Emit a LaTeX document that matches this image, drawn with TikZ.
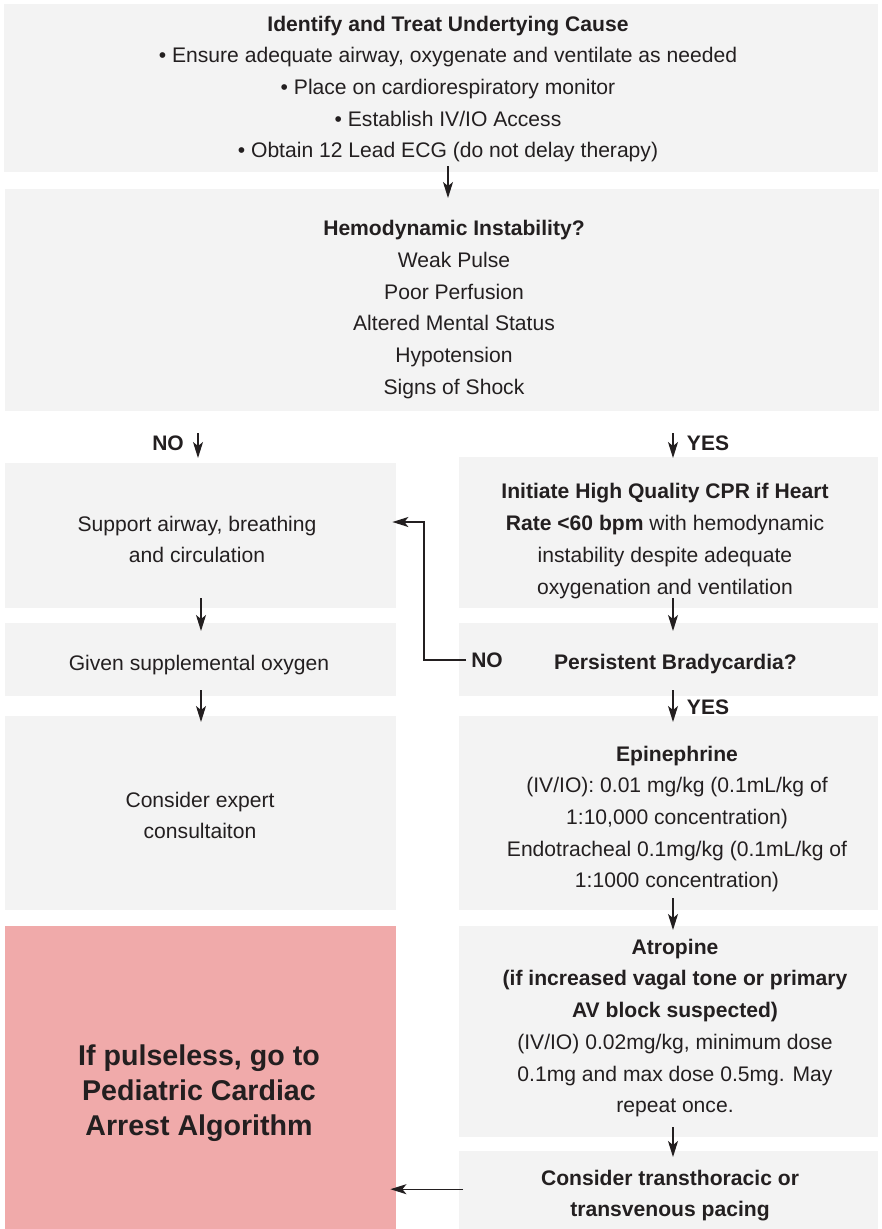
\documentclass[tikz,border=0pt]{standalone}
\usepackage{fontspec}
\setmainfont{Liberation Sans}
\usetikzlibrary{arrows.meta}
\definecolor{boxgray}{HTML}{F3F3F3}
\definecolor{alarm}{HTML}{F0AAAA}
\definecolor{ink}{HTML}{231F20}
\begin{document}
\begin{tikzpicture}[x=1pt,y=-1pt,
  box/.style={fill=boxgray, draw=none, inner sep=0pt, anchor=north west},
  redbox/.style={fill=alarm, draw=none, inner sep=0pt, anchor=north west},
  txt/.style={text=ink, align=center, inner sep=0pt, yshift=-2pt, font=\fontsize{21.1}{31.7}\selectfont},
  bigtxt/.style={text=ink, align=center, inner sep=0pt, font=\fontsize{28.6}{35}\selectfont\bfseries},
  lbl/.style={text=ink, inner sep=0pt, font=\fontsize{21}{24}\selectfont\bfseries},
  arr/.style={draw=ink, line width=1.3pt, -{Stealth[length=16pt,width=10pt,inset=4pt]}}
]
\fill[white] (0,0) rectangle (882,1229);
\useasboundingbox (0,0) rectangle (882,1229);

% column positions for the vertical arrows
\coordinate (cM) at (448,0);
\coordinate (cNo) at (198,0);
\coordinate (cL) at (201,0);
\coordinate (cR) at (673,0);
\coordinate (noTurn) at (424,522);

% boxes
\node[box, minimum width=874pt, minimum height=168pt] (top) at (4,4) {};
\node[box, minimum width=874pt, minimum height=222pt] (hemo) at (5,189) {};
\node[box, minimum width=391pt, minimum height=145pt] (left1) at (5,463) {};
\node[box, minimum width=419pt, minimum height=151pt] (right1) at (459,457) {};
\node[box, minimum width=391pt, minimum height=73pt] (left2) at (5,623) {};
\node[box, minimum width=419pt, minimum height=73pt] (right2) at (459,623) {};
\node[box, minimum width=391pt, minimum height=194pt] (left3) at (5,716) {};
\node[box, minimum width=419pt, minimum height=194pt] (right3) at (459,716) {};
\node[redbox, minimum width=391pt, minimum height=303pt] (red) at (5,926) {};
\node[box, minimum width=419pt, minimum height=211pt] (atro) at (459,926) {};
\node[box, minimum width=419pt, minimum height=78pt] (pacing) at (459,1151) {};

% texts
\node[txt] (toptxt) at (448,87) {\textbf{Identify and Treat Undertying Cause}\\
  • Ensure adequate airway, oxygenate and ventilate as needed\\
  • Place on cardiorespiratory monitor\\
  • Establish IV/IO Access\\
  • Obtain 12 Lead ECG (do not delay therapy)};
\node[txt] (hemotxt) at (454,307.5) {\textbf{Hemodynamic Instability?}\\
  Weak Pulse\\ Poor Perfusion\\ Altered Mental Status\\ Hypotension\\ Signs of Shock};
\node[txt] (left1txt) at (197,537.5) {Support airway, breathing\\ and circulation};
\node[txt] (right1txt) at (665,539) {\textbf{Initiate High Quality CPR if Heart}\\
  \textbf{Rate <60 bpm} with hemodynamic\\ instability despite adequate\\ oxygenation and ventilation};
\node[txt] (left2txt) at (199,663) {Given supplemental oxygen};
\node[txt] (right2txt) at (675.5,662) {\textbf{Persistent Bradycardia?}};
\node[txt] (left3txt) at (200,813.5) {Consider expert\\ consultaiton};
\node[txt] (right3txt) at (677,817) {\textbf{Epinephrine}\\
  (IV/IO): 0.01 mg/kg (0.1mL/kg of\\ 1:10,000 concentration)\\
  Endotracheal 0.1mg/kg (0.1mL/kg of\\ 1:1000 concentration)};
\node[bigtxt] (redtxt) at (199,1093) {If pulseless, go to\\ Pediatric Cardiac\\ Arrest Algorithm};
\node[txt] (atrotxt) at (675,1026) {\textbf{Atropine}\\
  \textbf{(if increased vagal tone or primary}\\ \textbf{AV block suspected)}\\
  (IV/IO) 0.02mg/kg, minimum dose\\ 0.1mg and max dose 0.5mg. May\\ repeat once.};
\node[txt] (pacingtxt) at (670,1193.5) {\textbf{Consider transthoracic or}\\ \textbf{transvenous pacing}};

% branch labels
\node[lbl] (noA) at (168,443) {NO};
\node[lbl] (yesA) at (708,443) {YES};
\node[lbl] (noB) at (487,660) {NO};
\node[lbl] (yesB) at (708,707) {YES};

% connectors
\draw[arr, shorten <=-6pt, shorten >=-9pt] (top.south -| cM) -- (hemo.north -| cM);
\draw[arr, shorten <=22pt, shorten >=5pt] (hemo.south -| cNo) -- (left1.north -| cNo);
\draw[arr, shorten <=22pt, shorten >=-1pt] (hemo.south -| cR) -- (right1.north -| cR);
\draw[arr, shorten <=-10pt, shorten >=-8pt] (left1.south -| cL) -- (left2.north -| cL);
\draw[arr, shorten <=-10pt, shorten >=-8pt] (right1.south -| cR) -- (right2.north -| cR);
\draw[arr, shorten <=-6pt, shorten >=-6pt] (left2.south -| cL) -- (left3.north -| cL);
\draw[arr, shorten <=-6pt, shorten >=-6pt] (right2.south -| cR) -- (right3.north -| cR);
\draw[arr, shorten <=-12pt, shorten >=-4pt] (right3.south -| cR) -- (atro.north -| cR);
\draw[arr, shorten <=-10pt, shorten >=-6pt] (atro.south -| cR) -- (pacing.north -| cR);
\draw[arr, shorten <=5pt, shorten >=-4pt] (noB.west) -| (noTurn) -- (noTurn -| left1.east);
\draw[arr, shorten <=-4pt, shorten >=-6pt] ([yshift=1pt]pacing.west) -- ([yshift=1pt]pacing.west -| red.east);
\end{tikzpicture}
\end{document}
